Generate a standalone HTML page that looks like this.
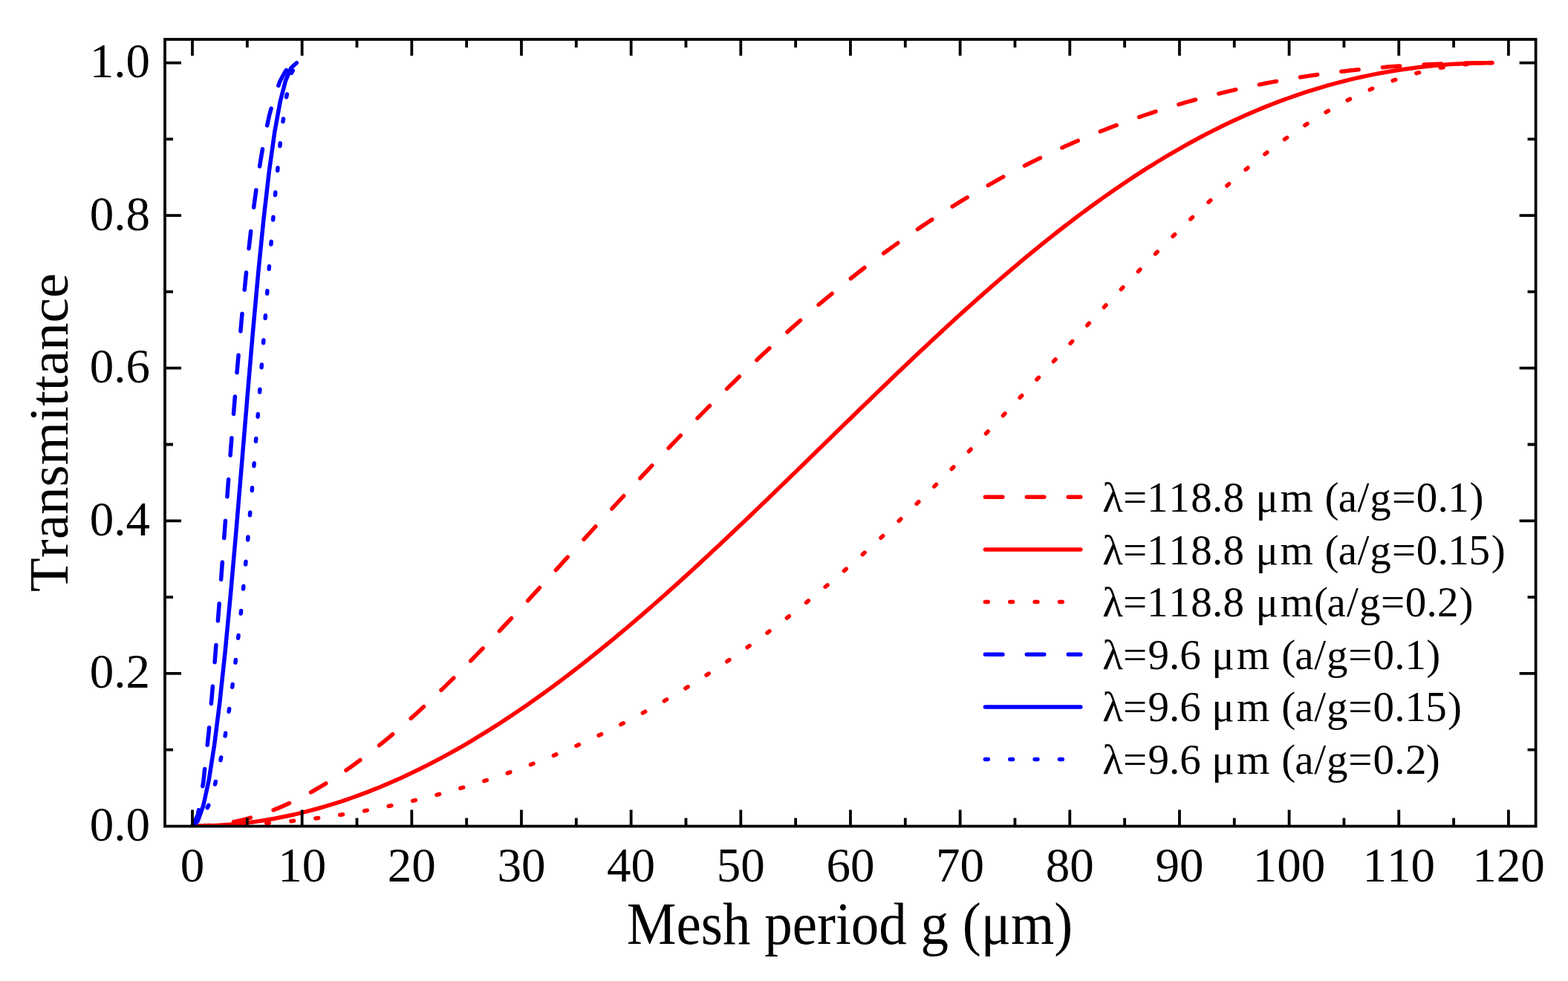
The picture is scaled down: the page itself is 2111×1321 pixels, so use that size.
<!DOCTYPE html><html><head><meta charset="utf-8"><title>Transmittance vs mesh period</title>
<style>html,body{margin:0;padding:0;background:#fff;overflow:hidden}svg{display:block}text{font-family:"Liberation Serif", "Times New Roman", serif;fill:#000;font-kerning:none}</style></head><body>
<svg width="2111" height="1321" viewBox="0 0 2111 1321">
<rect width="2111" height="1321" fill="#fff"/>
<defs><clipPath id="pa"><rect x="222.00" y="53.00" width="1845.60" height="1059.60"/></clipPath></defs>
<g fill="none" stroke-width="5.5" stroke-linecap="round" stroke-linejoin="round" clip-path="url(#pa)">
<path d="M259.00,1112.40 L266.38,1112.30 L273.77,1112.00 L281.15,1111.50 L288.53,1110.79 L295.92,1109.89 L303.30,1108.79 L310.68,1107.49 L318.06,1106.00 L325.45,1104.31 L332.83,1102.42 L340.21,1100.34 L347.60,1098.07 L354.98,1095.60 L362.36,1092.95 L369.75,1090.12 L377.13,1087.09 L384.51,1083.89 L391.89,1080.50 L399.28,1076.94 L406.66,1073.21 L414.04,1069.30 L421.43,1065.22 L428.81,1060.97 L436.19,1056.56 L443.57,1051.99 L450.96,1047.26 L458.34,1042.38 L465.72,1037.34 L473.11,1032.16 L480.49,1026.83 L487.87,1021.36 L495.26,1015.75 L502.64,1010.01 L510.02,1004.14 L517.40,998.14 L524.79,992.02 L532.17,985.78 L539.55,979.42 L546.94,972.95 L554.32,966.38 L561.70,959.70 L569.09,952.92 L576.47,946.04 L583.85,939.07 L591.24,932.01 L598.62,924.86 L606.00,917.64 L613.38,910.34 L620.77,902.96 L628.15,895.52 L635.53,888.00 L642.92,880.43 L650.30,872.80 L657.68,865.11 L665.07,857.37 L672.45,849.59 L679.83,841.76 L687.21,833.89 L694.60,825.98 L701.98,818.04 L709.36,810.07 L716.75,802.08 L724.13,794.06 L731.51,786.02 L738.89,777.96 L746.28,769.89 L753.66,761.80 L761.04,753.71 L768.43,745.62 L775.81,737.52 L783.19,729.42 L790.58,721.33 L797.96,713.24 L805.34,705.17 L812.73,697.10 L820.11,689.05 L827.49,681.01 L834.87,672.99 L842.26,664.99 L849.64,657.02 L857.02,649.07 L864.41,641.15 L871.79,633.26 L879.17,625.40 L886.55,617.57 L893.94,609.78 L901.32,602.02 L908.70,594.31 L916.09,586.63 L923.47,579.00 L930.85,571.41 L938.24,563.86 L945.62,556.36 L953.00,548.91 L960.38,541.51 L967.77,534.16 L975.15,526.86 L982.53,519.62 L989.92,512.42 L997.30,505.29 L1004.68,498.20 L1012.07,491.18 L1019.45,484.21 L1026.83,477.30 L1034.22,470.46 L1041.60,463.67 L1048.98,456.94 L1056.36,450.28 L1063.75,443.67 L1071.13,437.13 L1078.51,430.65 L1085.90,424.24 L1093.28,417.89 L1100.66,411.61 L1108.05,405.39 L1115.43,399.24 L1122.81,393.15 L1130.19,387.13 L1137.58,381.17 L1144.96,375.29 L1152.34,369.47 L1159.73,363.71 L1167.11,358.03 L1174.49,352.41 L1181.88,346.86 L1189.26,341.37 L1196.64,335.96 L1204.02,330.61 L1211.41,325.33 L1218.79,320.11 L1226.17,314.97 L1233.56,309.89 L1240.94,304.88 L1248.32,299.93 L1255.70,295.06 L1263.09,290.25 L1270.47,285.50 L1277.85,280.83 L1285.24,276.22 L1292.62,271.67 L1300.00,267.19 L1307.39,262.78 L1314.77,258.43 L1322.15,254.15 L1329.54,249.93 L1336.92,245.78 L1344.30,241.69 L1351.68,237.67 L1359.07,233.71 L1366.45,229.81 L1373.83,225.98 L1381.22,222.20 L1388.60,218.49 L1395.98,214.85 L1403.37,211.26 L1410.75,207.73 L1418.13,204.27 L1425.51,200.86 L1432.90,197.52 L1440.28,194.23 L1447.66,191.01 L1455.05,187.84 L1462.43,184.73 L1469.81,181.68 L1477.19,178.68 L1484.58,175.75 L1491.96,172.86 L1499.34,170.04 L1506.73,167.27 L1514.11,164.56 L1521.49,161.90 L1528.88,159.29 L1536.26,156.74 L1543.64,154.24 L1551.03,151.79 L1558.41,149.40 L1565.79,147.06 L1573.17,144.77 L1580.56,142.53 L1587.94,140.34 L1595.32,138.20 L1602.71,136.11 L1610.09,134.07 L1617.47,132.08 L1624.86,130.14 L1632.24,128.24 L1639.62,126.39 L1647.00,124.59 L1654.39,122.84 L1661.77,121.13 L1669.15,119.46 L1676.54,117.85 L1683.92,116.27 L1691.30,114.74 L1698.68,113.25 L1706.07,111.81 L1713.45,110.41 L1720.83,109.05 L1728.22,107.74 L1735.60,106.46 L1742.98,105.23 L1750.37,104.03 L1757.75,102.88 L1765.13,101.77 L1772.52,100.69 L1779.90,99.66 L1787.28,98.66 L1794.66,97.70 L1802.05,96.78 L1809.43,95.90 L1816.81,95.05 L1824.20,94.24 L1831.58,93.46 L1838.96,92.72 L1846.35,92.02 L1853.73,91.35 L1861.11,90.71 L1868.49,90.11 L1875.88,89.54 L1883.26,89.00 L1890.64,88.50 L1898.03,88.03 L1905.41,87.59 L1912.79,87.19 L1920.17,86.81 L1927.56,86.47 L1934.94,86.15 L1942.32,85.87 L1949.71,85.61 L1957.09,85.39 L1964.47,85.19 L1971.86,85.02 L1979.24,84.88 L1986.62,84.77 L1994.01,84.69 L2001.39,84.63 L2008.77,84.60" stroke="#ff0000" stroke-dasharray="23.5 32.4"/>
<path d="M259.00,1112.40 L266.38,1112.35 L273.77,1112.22 L281.15,1111.99 L288.53,1111.67 L295.92,1111.26 L303.30,1110.77 L310.68,1110.18 L318.06,1109.50 L325.45,1108.72 L332.83,1107.86 L340.21,1106.91 L347.60,1105.87 L354.98,1104.74 L362.36,1103.51 L369.75,1102.20 L377.13,1100.80 L384.51,1099.31 L391.89,1097.73 L399.28,1096.06 L406.66,1094.30 L414.04,1092.45 L421.43,1090.51 L428.81,1088.49 L436.19,1086.38 L443.57,1084.18 L450.96,1081.89 L458.34,1079.51 L465.72,1077.05 L473.11,1074.50 L480.49,1071.86 L487.87,1069.14 L495.26,1066.33 L502.64,1063.43 L510.02,1060.45 L517.40,1057.39 L524.79,1054.24 L532.17,1051.00 L539.55,1047.68 L546.94,1044.28 L554.32,1040.80 L561.70,1037.23 L569.09,1033.59 L576.47,1029.86 L583.85,1026.05 L591.24,1022.16 L598.62,1018.18 L606.00,1014.13 L613.38,1010.01 L620.77,1005.80 L628.15,1001.51 L635.53,997.15 L642.92,992.71 L650.30,988.20 L657.68,983.61 L665.07,978.95 L672.45,974.21 L679.83,969.40 L687.21,964.51 L694.60,959.56 L701.98,954.53 L709.36,949.44 L716.75,944.27 L724.13,939.04 L731.51,933.74 L738.89,928.37 L746.28,922.94 L753.66,917.44 L761.04,911.88 L768.43,906.25 L775.81,900.56 L783.19,894.81 L790.58,889.01 L797.96,883.14 L805.34,877.21 L812.73,871.23 L820.11,865.19 L827.49,859.09 L834.87,852.95 L842.26,846.75 L849.64,840.49 L857.02,834.19 L864.41,827.84 L871.79,821.44 L879.17,814.99 L886.55,808.50 L893.94,801.96 L901.32,795.38 L908.70,788.76 L916.09,782.10 L923.47,775.40 L930.85,768.66 L938.24,761.89 L945.62,755.08 L953.00,748.23 L960.38,741.36 L967.77,734.45 L975.15,727.52 L982.53,720.55 L989.92,713.56 L997.30,706.55 L1004.68,699.51 L1012.07,692.45 L1019.45,685.37 L1026.83,678.27 L1034.22,671.16 L1041.60,664.02 L1048.98,656.88 L1056.36,649.72 L1063.75,642.55 L1071.13,635.37 L1078.51,628.18 L1085.90,620.99 L1093.28,613.79 L1100.66,606.59 L1108.05,599.39 L1115.43,592.18 L1122.81,584.98 L1130.19,577.78 L1137.58,570.59 L1144.96,563.41 L1152.34,556.23 L1159.73,549.06 L1167.11,541.91 L1174.49,534.76 L1181.88,527.64 L1189.26,520.52 L1196.64,513.43 L1204.02,506.36 L1211.41,499.30 L1218.79,492.27 L1226.17,485.27 L1233.56,478.29 L1240.94,471.34 L1248.32,464.42 L1255.70,457.52 L1263.09,450.66 L1270.47,443.84 L1277.85,437.04 L1285.24,430.29 L1292.62,423.57 L1300.00,416.89 L1307.39,410.26 L1314.77,403.66 L1322.15,397.11 L1329.54,390.61 L1336.92,384.15 L1344.30,377.74 L1351.68,371.38 L1359.07,365.07 L1366.45,358.81 L1373.83,352.60 L1381.22,346.45 L1388.60,340.35 L1395.98,334.31 L1403.37,328.33 L1410.75,322.40 L1418.13,316.54 L1425.51,310.73 L1432.90,304.99 L1440.28,299.31 L1447.66,293.70 L1455.05,288.15 L1462.43,282.67 L1469.81,277.25 L1477.19,271.90 L1484.58,266.62 L1491.96,261.41 L1499.34,256.27 L1506.73,251.20 L1514.11,246.20 L1521.49,241.27 L1528.88,236.41 L1536.26,231.63 L1543.64,226.93 L1551.03,222.30 L1558.41,217.74 L1565.79,213.26 L1573.17,208.85 L1580.56,204.52 L1587.94,200.27 L1595.32,196.10 L1602.71,192.00 L1610.09,187.98 L1617.47,184.04 L1624.86,180.18 L1632.24,176.39 L1639.62,172.69 L1647.00,169.06 L1654.39,165.52 L1661.77,162.05 L1669.15,158.66 L1676.54,155.35 L1683.92,152.12 L1691.30,148.97 L1698.68,145.90 L1706.07,142.91 L1713.45,140.00 L1720.83,137.16 L1728.22,134.41 L1735.60,131.73 L1742.98,129.14 L1750.37,126.62 L1757.75,124.18 L1765.13,121.81 L1772.52,119.53 L1779.90,117.32 L1787.28,115.19 L1794.66,113.13 L1802.05,111.16 L1809.43,109.25 L1816.81,107.43 L1824.20,105.67 L1831.58,103.99 L1838.96,102.39 L1846.35,100.86 L1853.73,99.40 L1861.11,98.02 L1868.49,96.70 L1875.88,95.46 L1883.26,94.29 L1890.64,93.19 L1898.03,92.16 L1905.41,91.19 L1912.79,90.30 L1920.17,89.48 L1927.56,88.72 L1934.94,88.02 L1942.32,87.40 L1949.71,86.84 L1957.09,86.34 L1964.47,85.91 L1971.86,85.54 L1979.24,85.23 L1986.62,84.98 L1994.01,84.80 L2001.39,84.68 L2008.77,84.61" stroke="#ff0000"/>
<path d="M259.00,1112.40 L266.38,1112.38 L273.77,1112.32 L281.15,1112.21 L288.53,1112.07 L295.92,1111.89 L303.30,1111.66 L310.68,1111.39 L318.06,1111.08 L325.45,1110.73 L332.83,1110.34 L340.21,1109.91 L347.60,1109.43 L354.98,1108.92 L362.36,1108.36 L369.75,1107.76 L377.13,1107.11 L384.51,1106.43 L391.89,1105.70 L399.28,1104.94 L406.66,1104.12 L414.04,1103.27 L421.43,1102.37 L428.81,1101.43 L436.19,1100.45 L443.57,1099.42 L450.96,1098.35 L458.34,1097.24 L465.72,1096.08 L473.11,1094.88 L480.49,1093.64 L487.87,1092.35 L495.26,1091.01 L502.64,1089.63 L510.02,1088.21 L517.40,1086.74 L524.79,1085.22 L532.17,1083.66 L539.55,1082.05 L546.94,1080.39 L554.32,1078.69 L561.70,1076.94 L569.09,1075.15 L576.47,1073.30 L583.85,1071.41 L591.24,1069.47 L598.62,1067.48 L606.00,1065.45 L613.38,1063.36 L620.77,1061.22 L628.15,1059.04 L635.53,1056.80 L642.92,1054.51 L650.30,1052.18 L657.68,1049.79 L665.07,1047.35 L672.45,1044.85 L679.83,1042.31 L687.21,1039.71 L694.60,1037.06 L701.98,1034.35 L709.36,1031.60 L716.75,1028.78 L724.13,1025.92 L731.51,1022.99 L738.89,1020.02 L746.28,1016.98 L753.66,1013.89 L761.04,1010.75 L768.43,1007.54 L775.81,1004.28 L783.19,1000.96 L790.58,997.59 L797.96,994.15 L805.34,990.66 L812.73,987.10 L820.11,983.49 L827.49,979.82 L834.87,976.08 L842.26,972.29 L849.64,968.43 L857.02,964.52 L864.41,960.54 L871.79,956.50 L879.17,952.39 L886.55,948.22 L893.94,943.99 L901.32,939.70 L908.70,935.34 L916.09,930.92 L923.47,926.43 L930.85,921.88 L938.24,917.27 L945.62,912.58 L953.00,907.84 L960.38,903.02 L967.77,898.14 L975.15,893.20 L982.53,888.19 L989.92,883.11 L997.30,877.97 L1004.68,872.76 L1012.07,867.48 L1019.45,862.13 L1026.83,856.72 L1034.22,851.25 L1041.60,845.70 L1048.98,840.09 L1056.36,834.41 L1063.75,828.67 L1071.13,822.85 L1078.51,816.98 L1085.90,811.03 L1093.28,805.02 L1100.66,798.95 L1108.05,792.81 L1115.43,786.60 L1122.81,780.33 L1130.19,774.00 L1137.58,767.60 L1144.96,761.14 L1152.34,754.61 L1159.73,748.03 L1167.11,741.38 L1174.49,734.67 L1181.88,727.91 L1189.26,721.08 L1196.64,714.19 L1204.02,707.25 L1211.41,700.25 L1218.79,693.20 L1226.17,686.09 L1233.56,678.92 L1240.94,671.71 L1248.32,664.44 L1255.70,657.13 L1263.09,649.77 L1270.47,642.36 L1277.85,634.90 L1285.24,627.40 L1292.62,619.86 L1300.00,612.28 L1307.39,604.66 L1314.77,597.00 L1322.15,589.31 L1329.54,581.58 L1336.92,573.82 L1344.30,566.03 L1351.68,558.22 L1359.07,550.38 L1366.45,542.52 L1373.83,534.64 L1381.22,526.74 L1388.60,518.82 L1395.98,510.89 L1403.37,502.96 L1410.75,495.01 L1418.13,487.06 L1425.51,479.10 L1432.90,471.15 L1440.28,463.19 L1447.66,455.25 L1455.05,447.31 L1462.43,439.38 L1469.81,431.47 L1477.19,423.58 L1484.58,415.71 L1491.96,407.86 L1499.34,400.04 L1506.73,392.25 L1514.11,384.49 L1521.49,376.77 L1528.88,369.08 L1536.26,361.45 L1543.64,353.85 L1551.03,346.31 L1558.41,338.82 L1565.79,331.39 L1573.17,324.02 L1580.56,316.71 L1587.94,309.46 L1595.32,302.29 L1602.71,295.19 L1610.09,288.16 L1617.47,281.21 L1624.86,274.35 L1632.24,267.57 L1639.62,260.87 L1647.00,254.27 L1654.39,247.77 L1661.77,241.36 L1669.15,235.05 L1676.54,228.85 L1683.92,222.75 L1691.30,216.75 L1698.68,210.87 L1706.07,205.11 L1713.45,199.46 L1720.83,193.92 L1728.22,188.51 L1735.60,183.22 L1742.98,178.06 L1750.37,173.02 L1757.75,168.12 L1765.13,163.34 L1772.52,158.69 L1779.90,154.18 L1787.28,149.81 L1794.66,145.57 L1802.05,141.47 L1809.43,137.51 L1816.81,133.69 L1824.20,130.01 L1831.58,126.47 L1838.96,123.08 L1846.35,119.83 L1853.73,116.73 L1861.11,113.77 L1868.49,110.95 L1875.88,108.28 L1883.26,105.76 L1890.64,103.38 L1898.03,101.14 L1905.41,99.05 L1912.79,97.11 L1920.17,95.30 L1927.56,93.65 L1934.94,92.13 L1942.32,90.76 L1949.71,89.53 L1957.09,88.43 L1964.47,87.48 L1971.86,86.67 L1979.24,85.99 L1986.62,85.45 L1994.01,85.04 L2001.39,84.77 L2008.77,84.62" stroke="#ff0000" stroke-dasharray="3.8 29.45"/>
<path d="M259.00,1112.40 L266.38,1097.17 L273.77,1053.15 L281.15,984.99 L288.53,899.25 L295.92,803.08 L303.30,703.15 L310.68,604.93 L318.06,512.42 L325.45,428.24 L332.83,353.81 L340.21,289.65 L347.60,235.68 L354.98,191.41 L362.36,156.11 L369.75,128.95 L377.13,109.05 L384.51,95.57 L391.89,87.70 L399.28,84.68" stroke="#0000ff" stroke-dasharray="23.5 32.4"/>
<path d="M259.00,1112.40 L266.38,1105.45 L273.77,1084.73 L281.15,1050.59 L288.53,1003.67 L295.92,944.92 L303.30,875.72 L310.68,797.86 L318.06,713.56 L325.45,625.48 L332.83,536.55 L340.21,449.81 L347.60,368.21 L354.98,294.40 L362.36,230.45 L369.75,177.80 L377.13,137.16 L384.51,108.56 L391.89,91.43 L399.28,84.78" stroke="#0000ff"/>
<path d="M259.00,1112.40 L266.38,1109.24 L273.77,1099.68 L281.15,1083.46 L288.53,1060.14 L295.92,1029.14 L303.30,989.77 L310.68,941.32 L318.06,883.11 L325.45,814.76 L332.83,736.36 L340.21,648.84 L347.60,554.30 L354.98,456.24 L362.36,359.54 L369.75,270.10 L377.13,193.92 L384.51,136.06 L391.89,99.56 L399.28,85.00" stroke="#0000ff" stroke-dasharray="3.8 29.45"/>
</g>
<path d="M259.00,1112.60V1090.60M259.00,53.00V75.00M332.83,1112.60V1101.60M332.83,53.00V64.00M406.66,1112.60V1090.60M406.66,53.00V75.00M480.49,1112.60V1101.60M480.49,53.00V64.00M554.32,1112.60V1090.60M554.32,53.00V75.00M628.15,1112.60V1101.60M628.15,53.00V64.00M701.98,1112.60V1090.60M701.98,53.00V75.00M775.81,1112.60V1101.60M775.81,53.00V64.00M849.64,1112.60V1090.60M849.64,53.00V75.00M923.47,1112.60V1101.60M923.47,53.00V64.00M997.30,1112.60V1090.60M997.30,53.00V75.00M1071.13,1112.60V1101.60M1071.13,53.00V64.00M1144.96,1112.60V1090.60M1144.96,53.00V75.00M1218.79,1112.60V1101.60M1218.79,53.00V64.00M1292.62,1112.60V1090.60M1292.62,53.00V75.00M1366.45,1112.60V1101.60M1366.45,53.00V64.00M1440.28,1112.60V1090.60M1440.28,53.00V75.00M1514.11,1112.60V1101.60M1514.11,53.00V64.00M1587.94,1112.60V1090.60M1587.94,53.00V75.00M1661.77,1112.60V1101.60M1661.77,53.00V64.00M1735.60,1112.60V1090.60M1735.60,53.00V75.00M1809.43,1112.60V1101.60M1809.43,53.00V64.00M1883.26,1112.60V1090.60M1883.26,53.00V75.00M1957.09,1112.60V1101.60M1957.09,53.00V64.00M2030.92,1112.60V1090.60M2030.92,53.00V75.00M222.00,1009.62H233.00M2067.60,1009.62H2056.60M222.00,906.84H244.00M2067.60,906.84H2045.60M222.00,804.06H233.00M2067.60,804.06H2056.60M222.00,701.28H244.00M2067.60,701.28H2045.60M222.00,598.50H233.00M2067.60,598.50H2056.60M222.00,495.72H244.00M2067.60,495.72H2045.60M222.00,392.94H233.00M2067.60,392.94H2056.60M222.00,290.16H244.00M2067.60,290.16H2045.60M222.00,187.38H233.00M2067.60,187.38H2056.60M222.00,84.60H244.00M2067.60,84.60H2045.60" stroke="#000" stroke-width="3.8" fill="none"/>
<rect x="222.00" y="53.00" width="1845.60" height="1059.60" fill="none" stroke="#000" stroke-width="3.8"/>
<text x="202" y="1131.7" font-size="65" text-anchor="end">0.0</text>
<text x="202" y="926.1" font-size="65" text-anchor="end">0.2</text>
<text x="202" y="720.6" font-size="65" text-anchor="end">0.4</text>
<text x="202" y="515.0" font-size="65" text-anchor="end">0.6</text>
<text x="202" y="309.5" font-size="65" text-anchor="end">0.8</text>
<text x="202" y="103.9" font-size="65" text-anchor="end">1.0</text>
<text x="259.0" y="1186.5" font-size="65" text-anchor="middle">0</text>
<text x="406.7" y="1186.5" font-size="65" text-anchor="middle">10</text>
<text x="554.3" y="1186.5" font-size="65" text-anchor="middle">20</text>
<text x="702.0" y="1186.5" font-size="65" text-anchor="middle">30</text>
<text x="849.6" y="1186.5" font-size="65" text-anchor="middle">40</text>
<text x="997.3" y="1186.5" font-size="65" text-anchor="middle">50</text>
<text x="1145.0" y="1186.5" font-size="65" text-anchor="middle">60</text>
<text x="1292.6" y="1186.5" font-size="65" text-anchor="middle">70</text>
<text x="1440.3" y="1186.5" font-size="65" text-anchor="middle">80</text>
<text x="1587.9" y="1186.5" font-size="65" text-anchor="middle">90</text>
<text x="1735.6" y="1186.5" font-size="65" text-anchor="middle">100</text>
<text x="1883.3" y="1186.5" font-size="65" text-anchor="middle">110</text>
<text x="2030.9" y="1186.5" font-size="65" text-anchor="middle">120</text>
<text transform="translate(1144,1270.8) scale(1,1.06)" font-size="75" text-anchor="middle">Mesh period g (μm)</text>
<text transform="translate(91.2,582.5) rotate(-90)" font-size="75" text-anchor="middle">Transmittance</text>
<g fill="none" stroke-width="5.5" stroke-linecap="round">
<path d="M1326.4,669.30H1454.8" stroke="#ff0000" stroke-dasharray="23.5 32.4"/>
<path d="M1326.4,739.95H1454.8" stroke="#ff0000"/>
<path d="M1326.4,810.60H1454.8" stroke="#ff0000" stroke-dasharray="3.8 29.57"/>
<path d="M1326.4,881.25H1454.8" stroke="#0000ff" stroke-dasharray="23.5 32.4"/>
<path d="M1326.4,951.90H1454.8" stroke="#0000ff"/>
<path d="M1326.4,1022.55H1454.8" stroke="#0000ff" stroke-dasharray="3.8 29.57"/>
</g>
<text x="1484.3 1512.1 1544.1 1573.3 1603.2 1631.9 1646.5 1666.5 1690.5 1723.4 1743.4 1783.6 1801.7 1827.4 1844.2 1873.9 1906.7 1935.5 1949.2 1978.6" y="689.0" font-size="57" style="font-kerning:none">λ=118.8 μm (a/g=0.1)</text>
<text x="1484.3 1512.1 1544.1 1573.3 1603.2 1631.9 1646.5 1666.5 1690.5 1723.4 1743.4 1783.6 1801.7 1827.4 1844.2 1873.9 1906.7 1935.5 1949.2 1977.6 2007.7" y="759.5" font-size="57" style="font-kerning:none">λ=118.8 μm (a/g=0.15)</text>
<text x="1484.3 1512.1 1544.1 1573.3 1603.2 1631.9 1646.5 1666.5 1690.5 1723.4 1769.0 1786.5 1812.9 1830.0 1859.0 1891.8 1920.6 1935.1 1964.4" y="830.0" font-size="57" style="font-kerning:none">λ=118.8 μm(a/g=0.2)</text>
<text x="1484.3 1512.1 1545.5 1574.1 1588.3 1608.3 1631.2 1665.1 1685.1 1725.3 1743.2 1769.2 1786.0 1815.3 1848.4 1877.3 1891.4 1920.3" y="900.6" font-size="57" style="font-kerning:none">λ=9.6 μm (a/g=0.1)</text>
<text x="1484.3 1512.1 1545.5 1574.1 1588.3 1608.3 1631.2 1665.1 1685.1 1725.3 1743.2 1769.2 1786.0 1815.3 1848.4 1877.3 1891.4 1919.3 1949.1" y="971.1" font-size="57" style="font-kerning:none">λ=9.6 μm (a/g=0.15)</text>
<text x="1484.3 1512.1 1545.5 1574.1 1588.3 1608.3 1631.2 1665.1 1685.1 1725.3 1743.2 1769.2 1786.0 1815.3 1848.4 1877.3 1891.9 1919.7" y="1041.6" font-size="57" style="font-kerning:none">λ=9.6 μm (a/g=0.2)</text>
</svg></body></html>
